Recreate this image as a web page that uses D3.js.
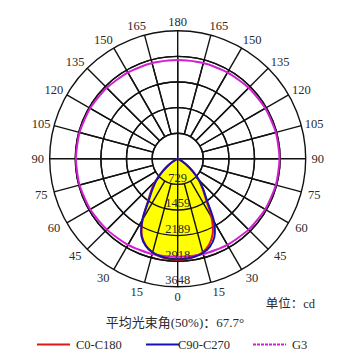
<!DOCTYPE html>
<html><head><meta charset="utf-8">
<script src="https://cdn.jsdelivr.net/npm/d3@7"></script>
<style>body{margin:0;background:#fff}svg{display:block}</style>
</head><body>
<svg id="c" width="360" height="360"></svg>
<script>
const ringValues = [729, 1459, 2189, 2918, 3648];
const angleTicks = [0, 15, 30, 45, 60, 75, 90, 105, 120, 135, 150, 165, 180];
const curveAngles = [0, 5, 10, 15, 20, 25, 30, 35, 40, 45, 50, 55, 60, 65, 70, 75, 80, 85, 90];
const c0 =   [2880, 2870, 2840, 2770, 2640, 2420, 2000, 1480, 1170, 900, 590, 350, 170, 65, 22, 6, 0, 0, 0];
const c180 = [2880, 2868, 2832, 2760, 2610, 2360, 1930, 1400, 1100, 840, 550, 320, 150, 55, 18, 5, 0, 0, 0];
const c90 =  [2860, 2850, 2820, 2760, 2650, 2440, 2020, 1430, 1110, 850, 560, 330, 155, 58, 20, 5, 0, 0, 0];
const c270 = [2860, 2852, 2830, 2780, 2670, 2470, 2070, 1460, 1130, 870, 580, 345, 165, 62, 21, 6, 0, 0, 0];
const g3Angles = [0, 15, 30, 45, 60, 75, 90, 105, 120, 135, 150, 165, 180];
const g3 =   [2800, 2810, 2830, 2855, 2880, 2895, 2900, 2895, 2880, 2860, 2840, 2825, 2815];
const legendNames = ["C0-C180", "C90-C270", "G3"];
const legendColors = ["#e01818", "#1414b4", "#d020d0"];

const svg = d3.select("#c");
const cx = 177.7, cy = 158.8, R = 128;
const r = d3.scaleLinear().domain([0, 3648]).range([0, R]);
const toRad = d => d * Math.PI / 180;
const g = svg.append("g").attr("transform", `translate(${cx},${cy})`);
const serif = "'Liberation Serif','DejaVu Serif','Noto Sans CJK SC',serif";
const txtCol = "#2a2a2a";

// rings
g.selectAll("circle.ring").data(ringValues).enter().append("circle")
  .attr("r", d => r(d)).attr("fill", "none").attr("stroke", "#111").attr("stroke-width", 1.4);

// spokes every 15 degrees (both sides)
const spokeAngles = d3.range(0, 360, 15);
g.selectAll("line.spoke").data(spokeAngles).enter().append("line")
  .attr("x1", d => (d % 90 === 0 ? 0 : r(ringValues[0])) * Math.sin(toRad(d)))
  .attr("y1", d => (d % 90 === 0 ? 0 : r(ringValues[0])) * Math.cos(toRad(d)))
  .attr("x2", d => R * Math.sin(toRad(d)))
  .attr("y2", d => R * Math.cos(toRad(d)))
  .attr("stroke", "#111").attr("stroke-width", 1.4);

// G3 curve
const g3pts = [];
g3Angles.forEach((a, i) => g3pts.push([Math.PI + toRad(a), r(g3[i])]));
for (let i = g3Angles.length - 2; i > 0; i--) g3pts.push([Math.PI - toRad(g3Angles[i]), r(g3[i])]);
const radialClosed = d3.lineRadial().angle(d => d[0]).radius(d => d[1]).curve(d3.curveCardinalClosed.tension(0.3));

// build distribution curves
function shape(left, right) {
  const pts = [];
  for (let i = curveAngles.length - 1; i >= 0; i--) pts.push([Math.PI + toRad(curveAngles[i]), r(left[i])]);
  for (let i = 1; i < curveAngles.length; i++) pts.push([Math.PI - toRad(curveAngles[i]), r(right[i])]);
  return pts;
}
const radial = d3.lineRadial().angle(d => d[0]).radius(d => d[1]).curve(d3.curveCatmullRom);

g.append("path").attr("d", radial(shape(c0, c180)) + "Z").attr("fill", "#ffff00").attr("stroke", "none");

// redraw grid lines over fill
g.selectAll("circle.ring2").data(ringValues.slice(0, 4)).enter().append("circle")
  .attr("r", d => r(d)).attr("fill", "none").attr("stroke", "#111").attr("stroke-width", 1.4);
g.selectAll("line.spoke2").data(spokeAngles).enter().append("line")
  .attr("x1", d => (d % 90 === 0 ? 0 : r(ringValues[0])) * Math.sin(toRad(d)))
  .attr("y1", d => (d % 90 === 0 ? 0 : r(ringValues[0])) * Math.cos(toRad(d)))
  .attr("x2", d => r(ringValues[3]) * Math.sin(toRad(d)))
  .attr("y2", d => r(ringValues[3]) * Math.cos(toRad(d)))
  .attr("stroke", "#111").attr("stroke-width", 1.4);

g.append("path").attr("d", radialClosed(g3pts)).attr("fill", "none").attr("stroke", legendColors[2]).attr("stroke-width", 2);
g.append("path").attr("d", radial(shape(c0, c180))).attr("fill", "none").attr("stroke", legendColors[0]).attr("stroke-width", 2);
g.append("path").attr("d", radial(shape(c90, c270))).attr("fill", "none").attr("stroke", legendColors[1]).attr("stroke-width", 2);

// ring labels
g.selectAll("text.rl").data(ringValues).enter().append("text")
  .attr("x", 0).attr("y", d => r(d) - 2.5)
  .attr("text-anchor", "middle").attr("font-family", serif).attr("font-size", 12.5).attr("fill", txtCol)
  .text(d => d);

// angle labels
[-1, 1].forEach(side => {
  g.selectAll(null).data(angleTicks.filter(a => side === -1 || (a !== 0 && a !== 180))).enter().append("text")
    .attr("x", d => side * (140 * Math.sin(toRad(d)) + 5 * Math.abs(Math.cos(toRad(d)))) * (d % 180 === 0 ? 0 : 1))
    .attr("y", d => 137.5 * Math.cos(toRad(d)))
    .attr("dy", "0.35em")
    .attr("text-anchor", "middle").attr("font-family", serif).attr("font-size", 12.5).attr("fill", txtCol)
    .text(d => d);
});

// unit & beam angle text
svg.append("text").attr("x", 315).attr("y", 308).attr("text-anchor", "end")
  .attr("font-family", serif).attr("font-size", 12.5).attr("fill", txtCol).text("单位：cd");
svg.append("text").attr("x", 175).attr("y", 327).attr("text-anchor", "middle")
  .attr("font-family", serif).attr("font-size", 13).attr("fill", txtCol).text("平均光束角(50%)：67.7°");

// legend
const legX = [37, 146, 253];
legendNames.forEach((n, i) => {
  svg.append("line").attr("x1", legX[i]).attr("x2", legX[i] + 33).attr("y1", 344.5).attr("y2", 344.5)
    .attr("stroke", legendColors[i]).attr("stroke-width", 2)
    .attr("stroke-dasharray", i === 2 ? "3,1" : null);
  svg.append("text").attr("x", legX[i] + (i === 1 ? 32 : 39)).attr("y", 349)
    .attr("font-family", serif).attr("font-size", 12.5).attr("fill", txtCol).text(n);
});
</script>
</body></html>
